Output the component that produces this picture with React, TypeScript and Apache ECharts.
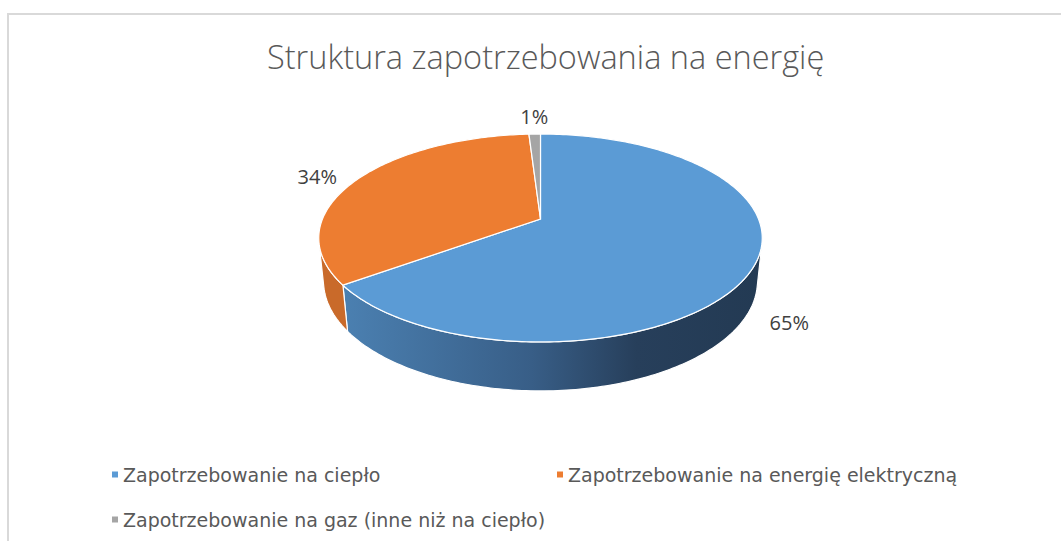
import React, { useEffect, useRef } from "react";
import * as echarts from "echarts";

const chartTitle = "Struktura zapotrzebowania na energię";
const categories = [
  "Zapotrzebowanie na ciepło",
  "Zapotrzebowanie na energię elektryczną",
  "Zapotrzebowanie na gaz (inne niż na ciepło)",
];
const values = [65, 34, 1];
const labelTexts = ["65%", "34%", "1%"];
const topColors = ["#5b9bd5", "#ed7d31", "#a5a5a5"];
const wallColors = ["#3f6a96", "#c96a2a", "#8a8a8a"];

// projection parameters (perspective 3D pie)
const CX = 540.5;
const CY = 219;
const F = 1059.5;
const D = 4.86;
const SIN_A = 0.461;
const COS_A = Math.sqrt(1 - SIN_A * SIN_A);
const H = 0.226;

function project(X: number, Y: number, Z: number): number[] {
  const depth = D - Y * COS_A - Z * SIN_A;
  return [CX + (F * X) / depth, CY + (F * (Y * SIN_A - Z * COS_A)) / depth];
}

const total = values.reduce((a, b) => a + b, 0);
const starts: number[] = [];
{
  let acc = 0;
  for (const v of values) {
    starts.push(-90 + (acc / total) * 360);
    acc += v;
  }
}

const VIS = (Math.asin(1 / (D * COS_A)) * 180) / Math.PI;
const VIS0 = VIS;
const VIS1 = 180 - VIS;

function arcPts(a: number, b: number, Z: number, r = 1): number[][] {
  const pts: number[][] = [];
  const n = Math.max(2, Math.ceil(Math.abs(b - a) / 1));
  for (let i = 0; i <= n; i++) {
    const t = ((a + ((b - a) * i) / n) * Math.PI) / 180;
    pts.push(project(r * Math.cos(t), r * Math.sin(t), Z));
  }
  return pts;
}

export default function App() {
  const ref = useRef<HTMLDivElement>(null);
  useEffect(() => {
    if (!ref.current) return;
    const chart = echarts.init(ref.current, null, { renderer: "svg" });

    const blueGrad = new echarts.graphic.LinearGradient(0, 0, 1, 0, [
      { offset: 0, color: "#4b80b1" },
      { offset: 0.45, color: "#385e87" },
      { offset: 0.7, color: "#273f5b" },
      { offset: 1, color: "#233a53" },
    ]);

    const renderItem = (params: any, api: any) => {
      const i = params.dataIndex;
      const v = api.value(0);
      const a = starts[i];
      const b = a + (v / total) * 360;
      const children: any[] = [];
      // wall (visible front part)
      const lo = Math.max(a, VIS0);
      const hi = Math.min(b, VIS1);
      if (hi > lo) {
        const top = arcPts(lo, hi, 0);
        const bot = arcPts(lo, hi, -H).reverse();
        children.push({
          type: "polygon",
          z2: 1,
          shape: { points: top.concat(bot) },
          style: {
            fill: i === 0 ? blueGrad : wallColors[i],
            stroke: "#ffffff",
            lineWidth: 1.2,
          },
        });
      }
      // top face
      const face = [project(0, 0, 0)].concat(arcPts(a, b, 0));
      children.push({
        type: "polygon",
        z2: 10,
        shape: { points: face },
        style: { fill: topColors[i], stroke: "#ffffff", lineWidth: 1.2 },
      });
      // label
      const mid = (((a + b) / 2) * Math.PI) / 180;
      const mx = Math.cos(mid);
      const my = Math.sin(mid);
      const front = my > 0;
      const p = project(1.08 * mx, 1.08 * my, front ? -H : 0);
      let align = "center";
      let vAlign = "bottom";
      let lx = p[0];
      let ly = p[1];
      if (mx > 0.3) {
        align = "left";
        vAlign = "middle";
        lx += 4;
        ly += 4;
      } else if (mx < -0.3) {
        align = "right";
        vAlign = "middle";
        lx -= 7;
      } else {
        ly -= 2;
      }
      children.push({
        type: "text",
        z2: 20,
        x: lx,
        y: ly,
        style: {
          text: labelTexts[i],
          fill: "#404040",
          fontSize: 20,
          fontFamily: "Open Sans",
          align,
          verticalAlign: vAlign,
        },
      });
      return { type: "group", children };
    };

    const legendBase = {
      icon: "rect",
      itemWidth: 6,
      itemHeight: 6,
      selectedMode: false,
      textStyle: { fontSize: 19, color: "#595959", fontFamily: "DejaVu Sans" },
    };

    chart.setOption({
      animation: false,
      title: {
        text: chartTitle,
        left: 262,
        top: 35,
        textStyle: {
          fontSize: 32.5,
          fontWeight: 300,
          color: "#595959",
          fontFamily: "Open Sans",
        },
      },
      legend: [
        { ...legendBase, data: [categories[0]], left: 107, top: 460 },
        { ...legendBase, data: [categories[1]], left: 552, top: 460 },
        { ...legendBase, data: [categories[2]], left: 107, top: 505 },
      ],
      graphic: [
        {
          type: "polyline",
          shape: { points: [[8, 541], [8, 14], [1061, 14]] },
          style: { stroke: "#d9d9d9", lineWidth: 2, fill: "none" },
          silent: true,
        },
      ],
      series: [
        {
          type: "custom",
          coordinateSystem: "none",
          renderItem,
          data: values.map((v) => [v]),
          silent: true,
        },
        {
          type: "pie",
          radius: [0, 0],
          center: [-100, -100],
          silent: true,
          label: { show: false },
          data: categories.map((c, i) => ({
            name: c,
            value: values[i],
            itemStyle: { color: topColors[i] },
          })),
        },
      ],
    });
    return () => chart.dispose();
  }, []);
  return (
    <div
      ref={ref}
      style={{ position: "fixed", left: 0, top: 0, width: 1061, height: 541, background: "#fff" }}
    />
  );
}
